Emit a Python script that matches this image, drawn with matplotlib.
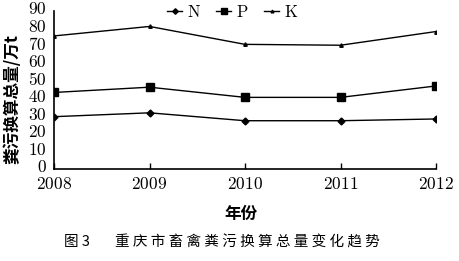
import numpy as np
import matplotlib
matplotlib.use("Agg")
import matplotlib.pyplot as plt
from matplotlib.transforms import ScaledTranslation

# data
years = [2008, 2009, 2010, 2011, 2012]
n_vals = [29.8, 32.0, 27.5, 27.5, 28.5]
p_vals = [43.6, 46.6, 40.8, 40.8, 47.3]
k_vals = [75.8, 81.2, 71.0, 70.5, 78.3]
yticks = [0, 10, 20, 30, 40, 50, 60, 70, 80, 90]

cjk = ["Noto Sans CJK SC", "DejaVu Sans"]
serif = "cmr10"
plt.rcParams["axes.formatter.use_mathtext"] = True

fig = plt.figure(figsize=(4.59, 2.61), dpi=100)
ax = fig.add_axes([54 / 459, 1 - 169 / 261, (436 - 54) / 459, (169 - 11) / 261])

ax.plot(years, n_vals, color="black", linewidth=1, marker="D", markersize=3.5, label="N")
ax.plot(years, p_vals, color="black", linewidth=1, marker="s", markersize=5.5, label="P")
ax.plot(years, k_vals, color="black", linewidth=1, marker="^", markersize=2.5, label="K")

ax.set_xlim(2008, 2012)
ax.set_ylim(0, 90)
ax.set_xticks(years)
ax.set_yticks(yticks)
ax.set_yticks([90], minor=True)
ax.spines["top"].set_visible(False)
ax.spines["right"].set_visible(False)
ax.spines["left"].set_linewidth(1.2)
ax.spines["bottom"].set_linewidth(1.2)
ax.tick_params(axis="x", direction="in", length=4, width=1, pad=5)
ax.tick_params(axis="y", which="major", length=0, pad=5)
ax.tick_params(axis="y", which="minor", direction="in", length=3, width=1)
shift_up = ScaledTranslation(0, 3 / 100, fig.dpi_scale_trans)
for lab in ax.get_xticklabels() + ax.get_yticklabels():
    lab.set_fontfamily(serif)
    lab.set_fontsize(12.5)
for lab in ax.get_yticklabels():
    lab.set_transform(lab.get_transform() + shift_up)

ax.set_xlabel("年份", family=cjk, fontsize=12, fontweight="bold")
ax.xaxis.set_label_coords(0.49, -0.228)
ax.set_ylabel("粪污换算总量/万t", family=cjk, fontsize=12, fontweight="bold")
ax.yaxis.set_label_coords(-0.084, 0.44)

fig.legend(loc="center", bbox_to_anchor=(232 / 459, 1 - 12 / 261), ncol=3, frameon=False,
           handlelength=0.9, handletextpad=0.3, columnspacing=1.0, markerscale=0.8,
           prop={"family": serif, "size": 12})

fig.text(64 / 459, 1 - 242 / 261, "图 3", family=cjk, fontsize=10.5, fontweight="light",
         va="center", ha="left")
fig.text(115 / 459, 1 - 242 / 261, " ".join("重庆市畜禽粪污换算总量变化趋势"), family=cjk,
         fontsize=10.5, fontweight="light", va="center", ha="left")

fig.savefig("out.png", dpi=100)
